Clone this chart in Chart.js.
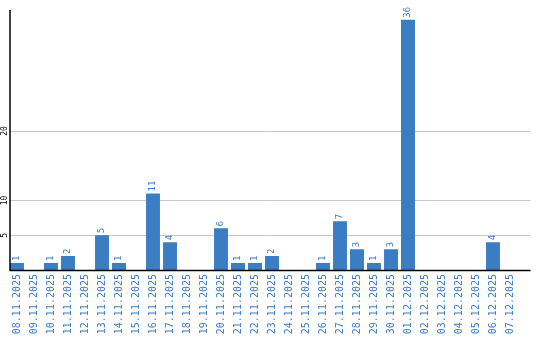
<!DOCTYPE html>
<html><head><meta charset="utf-8">
<script src="https://cdn.jsdelivr.net/npm/chart.js@4/dist/chart.umd.min.js"></script>
<style>html,body{margin:0;padding:0;background:#fff}#wrap{width:540px;height:340px}</style>
</head><body><div id="wrap"><canvas id="c" width="540" height="340"></canvas></div>
<script>
const categories = ["08.11.2025","09.11.2025","10.11.2025","11.11.2025","12.11.2025","13.11.2025","14.11.2025","15.11.2025","16.11.2025","17.11.2025","18.11.2025","19.11.2025","20.11.2025","21.11.2025","22.11.2025","23.11.2025","24.11.2025","25.11.2025","26.11.2025","27.11.2025","28.11.2025","29.11.2025","30.11.2025","01.12.2025","02.12.2025","03.12.2025","04.12.2025","05.12.2025","06.12.2025","07.12.2025"];
const counts = [1,0,1,2,0,5,1,0,11,4,0,0,6,1,1,2,0,0,1,7,3,1,3,36,0,0,0,0,4,0];
const yTicks = [5,10,20];

const BLUE = '#3b7dc3';
const decor = {
  id:'decor',
  beforeDatasetsDraw(chart){
    const ctx = chart.ctx, a = chart.chartArea, y = chart.scales.y;
    ctx.save();
    ctx.strokeStyle = '#c8c8c8'; ctx.lineWidth = 1;
    yTicks.forEach(v=>{
      const py = Math.round(y.getPixelForValue(v)) + 0.5;
      ctx.beginPath(); ctx.moveTo(a.left+2, py); ctx.lineTo(a.right+12, py); ctx.stroke();
    });
    ctx.restore();
  },
  afterDatasetsDraw(chart){
    const ctx = chart.ctx, a = chart.chartArea, y = chart.scales.y;
    ctx.save();
    ctx.strokeStyle = '#000'; ctx.lineWidth = 1.5;
    ctx.beginPath(); ctx.moveTo(a.left+1.5, a.top); ctx.lineTo(a.left+1.5, a.bottom+0.5); ctx.stroke();
    ctx.beginPath(); ctx.moveTo(a.left+1, a.bottom+0.5); ctx.lineTo(a.right+12, a.bottom+0.5); ctx.stroke();
    ctx.fillStyle = '#000'; ctx.font = '8px "DejaVu Sans Mono"';
    ctx.textAlign = 'center'; ctx.textBaseline = 'middle';
    yTicks.forEach(v=>{
      const py = y.getPixelForValue(v);
      ctx.save(); ctx.translate(5, py); ctx.rotate(-Math.PI/2); ctx.fillText(String(v),0,0); ctx.restore();
    });
    const meta = chart.getDatasetMeta(0);
    ctx.fillStyle = BLUE; ctx.font = '9px "DejaVu Sans Mono"';
    ctx.textAlign = 'left'; ctx.textBaseline = 'middle';
    meta.data.forEach((bar,i)=>{
      const v = counts[i]; if(!v) return;
      ctx.save(); ctx.translate(bar.x, bar.y-2); ctx.rotate(-Math.PI/2); ctx.fillText(String(v),0,0); ctx.restore();
    });
    ctx.restore();
  }
};

new Chart(document.getElementById('c'), {
  type:'bar',
  data:{labels:categories, datasets:[{data:counts, backgroundColor:BLUE, borderWidth:0, barPercentage:0.82, categoryPercentage:1}]},
  options:{
    responsive:false, animation:false,
    layout:{padding:{left:8.5, right:21.5, top:10, bottom:0}},
    plugins:{legend:{display:false}, tooltip:{enabled:false}},
    scales:{
      x:{
        grid:{display:false, drawTicks:false},
        border:{display:false},
        ticks:{color:BLUE, font:{family:'DejaVu Sans Mono', size:10}, minRotation:90, maxRotation:90, padding:4, autoSkip:false},
        afterFit(s){ s.height = 70; }
      },
      y:{
        min:0, max:37.4,
        grid:{display:false, drawTicks:false},
        border:{display:false},
        ticks:{display:false},
        afterBuildTicks(s){ s.ticks = yTicks.map(v=>({value:v})); },
        afterFit(s){ s.width = 0; }
      }
    }
  },
  plugins:[decor]
});
</script></body></html>
